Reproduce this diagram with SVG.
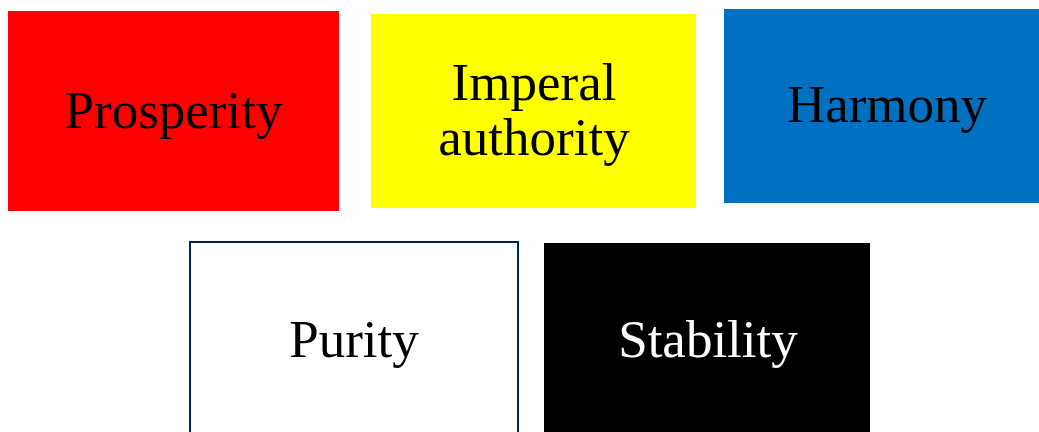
<svg xmlns="http://www.w3.org/2000/svg" width="1039" height="432" viewBox="0 0 1039 432">
<style>
text{font-family:"Liberation Serif","Times New Roman",serif;font-size:53px;text-anchor:middle}
</style>
<rect width="1039" height="432" fill="#fff"/>
<g id="prosperity"><rect x="8" y="11" width="331" height="200" fill="#ff0000"/><text x="173.5" y="128">Prosperity</text></g>
<g id="imperial"><rect x="371" y="14" width="325" height="194" fill="#ffff00"/><text x="534" y="100">Imperal</text><text x="534" y="155">authority</text></g>
<g id="harmony"><rect x="724" y="9" width="315" height="194" fill="#0070c0"/><text x="887" y="122">Harmony</text></g>
<g id="purity"><rect x="190" y="242" width="328" height="195" fill="#fff" stroke="#002060" stroke-width="2"/><text x="354" y="357">Purity</text></g>
<g id="stability"><rect x="544" y="243" width="326" height="195" fill="#000"/><text x="708" y="357" fill="#fff">Stability</text></g>
<g id="connectors"/>
</svg>
